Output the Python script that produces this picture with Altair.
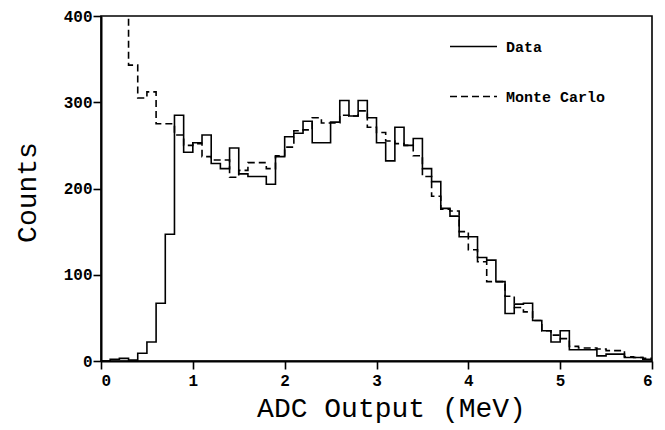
import altair as alt
import pandas as pd

# Bin left edges (MeV), bin width 0.1
data_edges = [round(0.1 * i, 1) for i in range(61)]

data_counts = [0, 2, 3, 1, 9, 22, 67, 147, 285, 242,
               253, 262, 229, 223, 247, 217, 214, 214, 205, 237,
               260, 264, 278, 253, 253, 277, 302, 284, 302, 282,
               253, 232, 271, 250, 258, 223, 208, 177, 168, 144,
               144, 120, 117, 92, 55, 66, 67, 47, 35, 22,
               35, 13, 13, 13, 6, 8, 8, 4, 4, 2]

mc_edges = [round(0.1 * i, 1) for i in range(2, 61)]
mc_counts = [450, 343, 305, 312, 275, 275, 262, 250,
             252, 237, 233, 233, 213, 221, 230, 230, 223, 238,
             248, 267, 268, 282, 276, 276, 285, 284, 290, 271,
             265, 255, 252, 250, 238, 214, 191, 176, 174, 150,
             129, 115, 92, 92, 75, 62, 57, 47, 35, 30,
             26, 17, 15, 15, 14, 12, 12, 5, 4, 3]

rows = []
for i, x in enumerate(data_edges):
    v = data_counts[min(i, len(data_counts) - 1)]
    rows.append({"x": x, "y": v, "series": "Data", "order": i})
for i, x in enumerate(mc_edges):
    v = mc_counts[min(i, len(mc_counts) - 1)]
    rows.append({"x": x, "y": v, "series": "Monte Carlo", "order": i})
df = pd.DataFrame(rows)

FONT = "Liberation Mono"

chart = alt.Chart(df).mark_line(
    interpolate="step-after", color="black", strokeWidth=1.6, clip=True
).encode(
    x=alt.X("x:Q", scale=alt.Scale(domain=[0, 6], nice=False),
            axis=alt.Axis(title="ADC Output (MeV)", values=[0, 1, 2, 3, 4, 5, 6],
                          format="d", grid=False, tickSize=8, labelPadding=3,
                          titlePadding=6, titleX=290)),
    y=alt.Y("y:Q", scale=alt.Scale(domain=[0, 400], nice=False),
            axis=alt.Axis(title="Counts", values=[0, 100, 200, 300, 400],
                          format="d", grid=False, tickSize=8, labelPadding=1,
                          titlePadding=22, titleY=176)),
    strokeDash=alt.StrokeDash(
        "series:N",
        scale=alt.Scale(domain=["Data", "Monte Carlo"], range=[[1, 0], [7, 4]]),
        legend=alt.Legend(title=None, orient="none", legendX=348, legendY=6,
                          symbolType="stroke", symbolSize=2209,
                          symbolStrokeColor="black", symbolStrokeWidth=1.6,
                          labelFont=FONT, labelFontSize=15, labelFontWeight="bold",
                          labelColor="black", labelOffset=8, rowPadding=17),
    ),
    order="order:Q",
).properties(
    width=551, height=345, autosize="none", background="white",
    padding={"left": 93, "top": 8, "right": 5, "bottom": 68},
).configure_view(
    stroke="black", strokeWidth=1.6
).configure_axis(
    domainColor="black", domainWidth=2, tickColor="black", tickWidth=1.6,
    labelFont=FONT, labelFontSize=16, labelFontWeight="bold", labelColor="black",
    titleFont=FONT, titleFontSize=28, titleFontWeight="normal", titleColor="black",
)

chart.save("out.html", embed_options={"renderer": "svg", "actions": False})
